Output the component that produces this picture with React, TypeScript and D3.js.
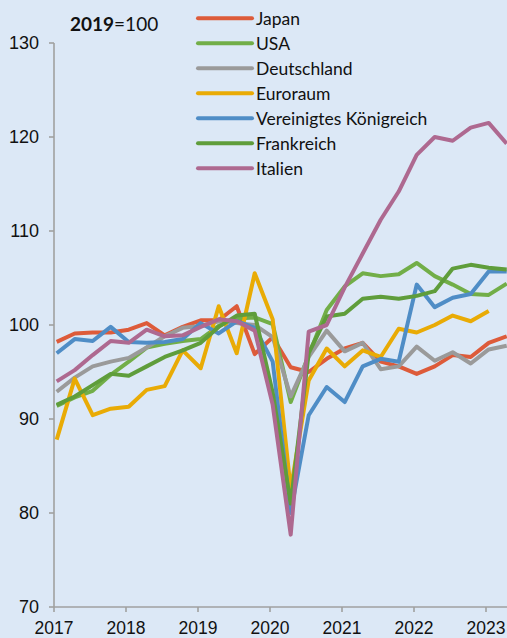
import React from 'react';
import * as d3 from 'd3';

// Quartalswerte 2017Q1 .. 2023Q2, 2019=100
const years = [2017, 2018, 2019, 2020, 2021, 2022, 2023];
const yTicks = [70, 80, 90, 100, 110, 120, 130];

const japan = [98.2, 99.1, 99.2, 99.2, 99.5, 100.2, 98.9, 99.8, 100.5, 100.5, 102.0, 96.9, 98.7, 95.5, 95.0, 96.4, 97.5, 98.1, 96.1, 95.6, 94.8, 95.6, 96.8, 96.6, 98.1, 98.8];
const usa = [91.4, 92.3, 93.0, 94.7, 96.1, 97.6, 98.0, 98.3, 98.5, 99.9, 100.7, 100.8, 100.1, 91.8, 96.8, 101.6, 104.1, 105.5, 105.2, 105.4, 106.6, 105.2, 104.3, 103.3, 103.2, 104.4];
const deutschland = [92.9, 94.4, 95.6, 96.1, 96.5, 97.6, 98.8, 99.7, 99.9, 100.4, 100.2, 100.0, 98.7, 92.4, 96.6, 99.4, 97.2, 98.1, 95.3, 95.6, 97.7, 96.2, 97.1, 95.9, 97.4, 97.8];
const euroraum = [87.8, 94.3, 90.4, 91.1, 91.3, 93.1, 93.5, 97.3, 95.4, 102.0, 97.0, 105.5, 100.6, 82.5, 94.1, 97.5, 95.6, 97.3, 96.6, 99.6, 99.2, 100.0, 101.0, 100.4, 101.5, null];
const uk = [97.0, 98.5, 98.3, 99.8, 98.2, 98.1, 98.2, 98.5, 100.2, 99.1, 100.4, 99.7, 96.1, 80.0, 90.4, 93.4, 91.8, 95.6, 96.4, 96.1, 104.3, 101.9, 102.9, 103.3, 105.7, 105.7];
const frankreich = [91.5, 92.4, 93.6, 94.8, 94.6, 95.6, 96.6, 97.3, 98.1, 99.8, 101.0, 101.2, 92.8, 81.0, 97.0, 100.9, 101.2, 102.8, 103.0, 102.8, 103.1, 103.6, 106.0, 106.4, 106.1, 105.9];
const italien = [94.0, 95.2, 96.8, 98.3, 98.1, 99.5, 98.8, 98.9, 99.8, 100.6, 100.4, 99.4, 91.5, 77.7, 99.3, 100.0, 104.0, 107.6, 111.2, 114.2, 118.1, 120.0, 119.6, 121.0, 121.5, 119.3];

const series = [
  { name: 'Japan', color: '#dd5b3a', values: japan },
  { name: 'USA', color: '#72ae48', values: usa },
  { name: 'Deutschland', color: '#9a9a9a', values: deutschland },
  { name: 'Euroraum', color: '#e9ab05', values: euroraum },
  { name: 'Vereinigtes Königreich', color: '#4f8dc6', values: uk },
  { name: 'Frankreich', color: '#5f9d3b', values: frankreich },
  { name: 'Italien', color: '#ae6990', values: italien },
];

const W = 507;
const H = 638;

export default function App() {
  const x = d3.scaleLinear().domain([2017, 2023]).range([54, 486]);
  const xq = d3.scaleLinear().domain([0, 24]).range([56.7, 488.7]);
  const y = d3.scaleLinear().domain([70, 130]).range([607, 43]);

  const line = d3.line<number | null>()
    .defined(d => d !== null)
    .x((_, i) => xq(i))
    .y(d => y(d as number));

  const axisColor = '#a0a0a0';
  const axisFont = '"Liberation Sans", Arial, sans-serif';
  const legendFont = 'Lato, "Open Sans", sans-serif';

  return (
    <svg width={W} height={H} style={{ position: 'absolute', left: 0, top: 0 }}>
      <rect width={W} height={H} fill="#dce8f6" />

      {/* y-Achse */}
      <line x1={x(2017)} x2={x(2017)} y1={y(130)} y2={y(70)} stroke={axisColor} strokeWidth={1.6} />
      {yTicks.map(t => (
        <g key={t}>
          <line x1={x(2017) - 5} x2={x(2017)} y1={y(t)} y2={y(t)} stroke={axisColor} strokeWidth={1.6} />
          <text x={39} y={y(t)} dy="0.35em" textAnchor="end" fontFamily={axisFont} fontSize={18} fill="#111">{t}</text>
        </g>
      ))}

      {/* x-Achse */}
      <line x1={x(2017)} x2={W} y1={y(70)} y2={y(70)} stroke={axisColor} strokeWidth={1.6} />
      {years.map(yr => (
        <g key={yr}>
          <line x1={x(yr)} x2={x(yr)} y1={y(70)} y2={y(70) + 5} stroke={axisColor} strokeWidth={1.6} />
          <text x={x(yr)} y={634} textAnchor="middle" fontFamily={axisFont} fontSize={17.5} fill="#111">{yr}</text>
        </g>
      ))}

      {/* Linien */}
      {series.map(s => (
        <path key={s.name} d={line(s.values) || ''} fill="none" stroke={s.color}
          strokeWidth={4} strokeLinejoin="round" strokeLinecap="butt" />
      ))}

      {/* Legende */}
      {series.map((s, i) => (
        <g key={s.name} transform={`translate(198,${18.3 + i * 25})`}>
          <line x1={0} x2={54} y1={0} y2={0} stroke={s.color} strokeWidth={4} strokeLinecap="round" />
          <text x={58} y={0} dy="0.36em" fontFamily={legendFont} fontSize={17.5} fill="#111">{s.name}</text>
        </g>
      ))}

      <text x={70} y={31} fontFamily={legendFont} fontSize={19} fill="#111">
        <tspan fontWeight="bold">2019</tspan>=100
      </text>
    </svg>
  );
}
